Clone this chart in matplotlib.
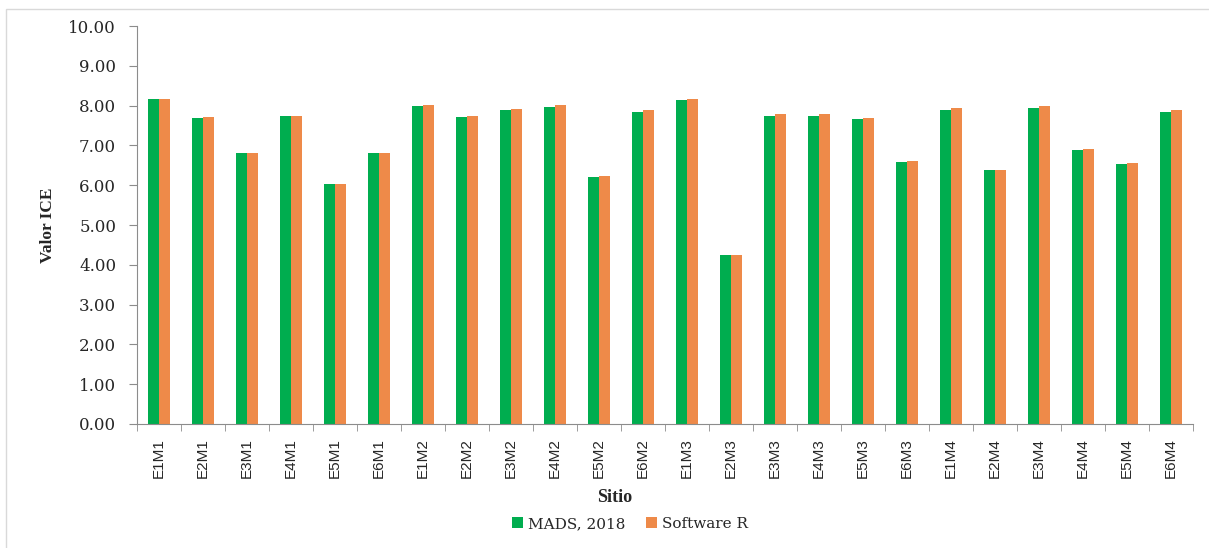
import matplotlib
matplotlib.use("Agg")
import matplotlib.pyplot as plt
import numpy as np
from matplotlib.patches import Rectangle

# Sites and ICE values
sitios = ["E1M1", "E2M1", "E3M1", "E4M1", "E5M1", "E6M1",
          "E1M2", "E2M2", "E3M2", "E4M2", "E5M2", "E6M2",
          "E1M3", "E2M3", "E3M3", "E4M3", "E5M3", "E6M3",
          "E1M4", "E2M4", "E3M4", "E4M4", "E5M4", "E6M4"]
mads_2018 = [8.16, 7.69, 6.82, 7.75, 6.04, 6.80,
             8.00, 7.71, 7.88, 7.97, 6.21, 7.85,
             8.14, 4.24, 7.75, 7.75, 7.66, 6.58,
             7.89, 6.37, 7.94, 6.89, 6.54, 7.84]
software_r = [8.16, 7.71, 6.82, 7.75, 6.04, 6.82,
              8.02, 7.73, 7.92, 8.01, 6.23, 7.89,
              8.16, 4.24, 7.78, 7.78, 7.69, 6.61,
              7.93, 6.39, 8.00, 6.92, 6.57, 7.88]
y_ticks = [0, 1, 2, 3, 4, 5, 6, 7, 8, 9, 10]

GREEN = "#00AD4F"
ORANGE = "#EE8A49"
AXIS = "#8C8C8C"
TXT = "#262626"

fig = plt.figure(figsize=(12.09, 5.48), dpi=100)
ax = fig.add_axes([137 / 1209, 1 - 424 / 548, (1193 - 137) / 1209, (424 - 26) / 548])

# outer light gray frame (cropped on right/bottom like the screenshot)
fig.patches.append(Rectangle((6 / 1209, -0.05), 1.2, 1 - 9 / 548 + 0.05,
                             transform=fig.transFigure, fill=False,
                             edgecolor="#D9D9D9", linewidth=1.0))

x = np.arange(len(sitios))
w = 0.25
ax.bar(x - w / 2, mads_2018, width=w, color=GREEN, label="MADS, 2018")
ax.bar(x + w / 2, software_r, width=w, color=ORANGE, label="Software R")

ax.set_xlim(-0.5, len(sitios) - 0.5)
ax.set_ylim(0, 10)
ax.set_yticks(y_ticks)
ax.set_yticklabels([f"{v:.2f}" for v in y_ticks], family="DejaVu Serif", fontsize=12, color=TXT)
ax.tick_params(axis="y", length=6, color=AXIS, pad=9)

ax.set_xticks(x)
ax.set_xticklabels(sitios, rotation=90, family=["Liberation Sans Narrow", "Liberation Sans"],
                   fontsize=11, color=TXT)
ax.tick_params(axis="x", which="major", length=0, pad=10)
ax.set_xticks(np.arange(-0.5, len(sitios)), minor=True)
ax.tick_params(axis="x", which="minor", length=5, color=AXIS)

for s in ["top", "right"]:
    ax.spines[s].set_visible(False)
for s in ["left", "bottom"]:
    ax.spines[s].set_color(AXIS)

fig.text(48 / 1209, 1 - 225 / 548, "Valor ICE", rotation=90, ha="center", va="center",
         family="Liberation Serif", fontweight="bold", fontsize=12.5, color=TXT)
fig.text(615 / 1209, 1 - 497 / 548, "Sitio", ha="center", va="center",
         family="Liberation Serif", fontweight="bold", fontsize=13, color=TXT)

leg = fig.legend(loc="center", bbox_to_anchor=(630 / 1209, 1 - 524 / 548), ncol=2,
                 frameon=False, handlelength=0.7, handleheight=0.7, handletextpad=0.3,
                 columnspacing=1.4, prop={"family": "DejaVu Serif", "size": 11})
for t in leg.get_texts():
    t.set_color(TXT)

fig.savefig("out.png", dpi=100, facecolor="white")
